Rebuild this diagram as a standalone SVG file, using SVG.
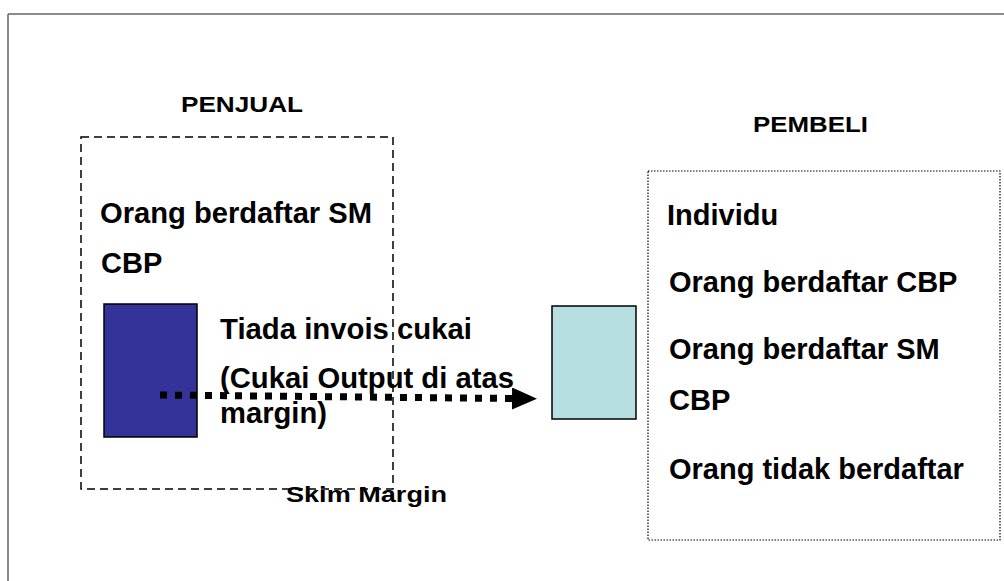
<svg xmlns="http://www.w3.org/2000/svg" width="1004" height="581" viewBox="0 0 1004 581">
<style>
  .t { font-family: "Liberation Sans", Arial, sans-serif; font-weight: bold; fill: #000; }
  .b { font-size: 29px; }
  .h { font-size: 22px; }
</style>
<defs>
  <marker id="ah" markerUnits="userSpaceOnUse" markerWidth="26" markerHeight="24" refX="0" refY="11" orient="auto">
    <path d="M0,0 L25,11 L0,22 Z" fill="#000"/>
  </marker>
</defs>
<rect x="0" y="0" width="1004" height="581" fill="#fff"/>
<g id="frame">
  <path d="M8,14 H1004 M8,14 V581" fill="none" stroke="#666" stroke-width="1.5"/>
</g>
<g id="penjual">
  <text class="t h" x="181" y="111.5" textLength="122" lengthAdjust="spacingAndGlyphs">PENJUAL</text>
  <rect x="81" y="137" width="312" height="352" fill="none" stroke="#000" stroke-width="1.5" stroke-dasharray="8 5"/>
  <text class="t b" x="100" y="223" textLength="272" lengthAdjust="spacingAndGlyphs">Orang berdaftar SM</text>
  <text class="t b" x="101" y="273">CBP</text>
</g>
<g id="seller-doc">
  <rect x="104" y="304" width="93" height="133" fill="#333399" stroke="#000" stroke-width="1.5"/>
</g>
<g id="invoice-label">
  <text class="t b" x="220" y="339" textLength="252" lengthAdjust="spacingAndGlyphs">Tiada invois cukai</text>
  <text class="t b" x="220" y="388" textLength="294" lengthAdjust="spacingAndGlyphs">(Cukai Output di atas</text>
  <text class="t b" x="220" y="423" textLength="107" lengthAdjust="spacingAndGlyphs">margin)</text>
</g>
<g id="skim-label">
  <text class="t" x="286" y="501.5" font-size="22" textLength="161" lengthAdjust="spacingAndGlyphs">Skim Margin</text>
</g>
<g id="buyer-doc">
  <rect x="552" y="306" width="84" height="113" fill="#B7DEE0" stroke="#000" stroke-width="1.5"/>
</g>
<g id="pembeli">
  <text class="t h" x="753" y="131.5" textLength="115" lengthAdjust="spacingAndGlyphs">PEMBELI</text>
  <rect x="648" y="171" width="352" height="369" fill="none" stroke="#000" stroke-width="1.2" stroke-dasharray="1.5 1.5"/>
  <text class="t b" x="667" y="225">Individu</text>
  <text class="t b" x="669" y="292">Orang berdaftar CBP</text>
  <text class="t b" x="669" y="359">Orang berdaftar SM</text>
  <text class="t b" x="669" y="410">CBP</text>
  <text class="t b" x="669" y="479">Orang tidak berdaftar</text>
</g>
<g id="connectors">
  <line x1="160" y1="395" x2="512" y2="398.5" stroke="#000" stroke-width="7" stroke-dasharray="7 8" marker-end="url(#ah)"/>
</g>
</svg>
